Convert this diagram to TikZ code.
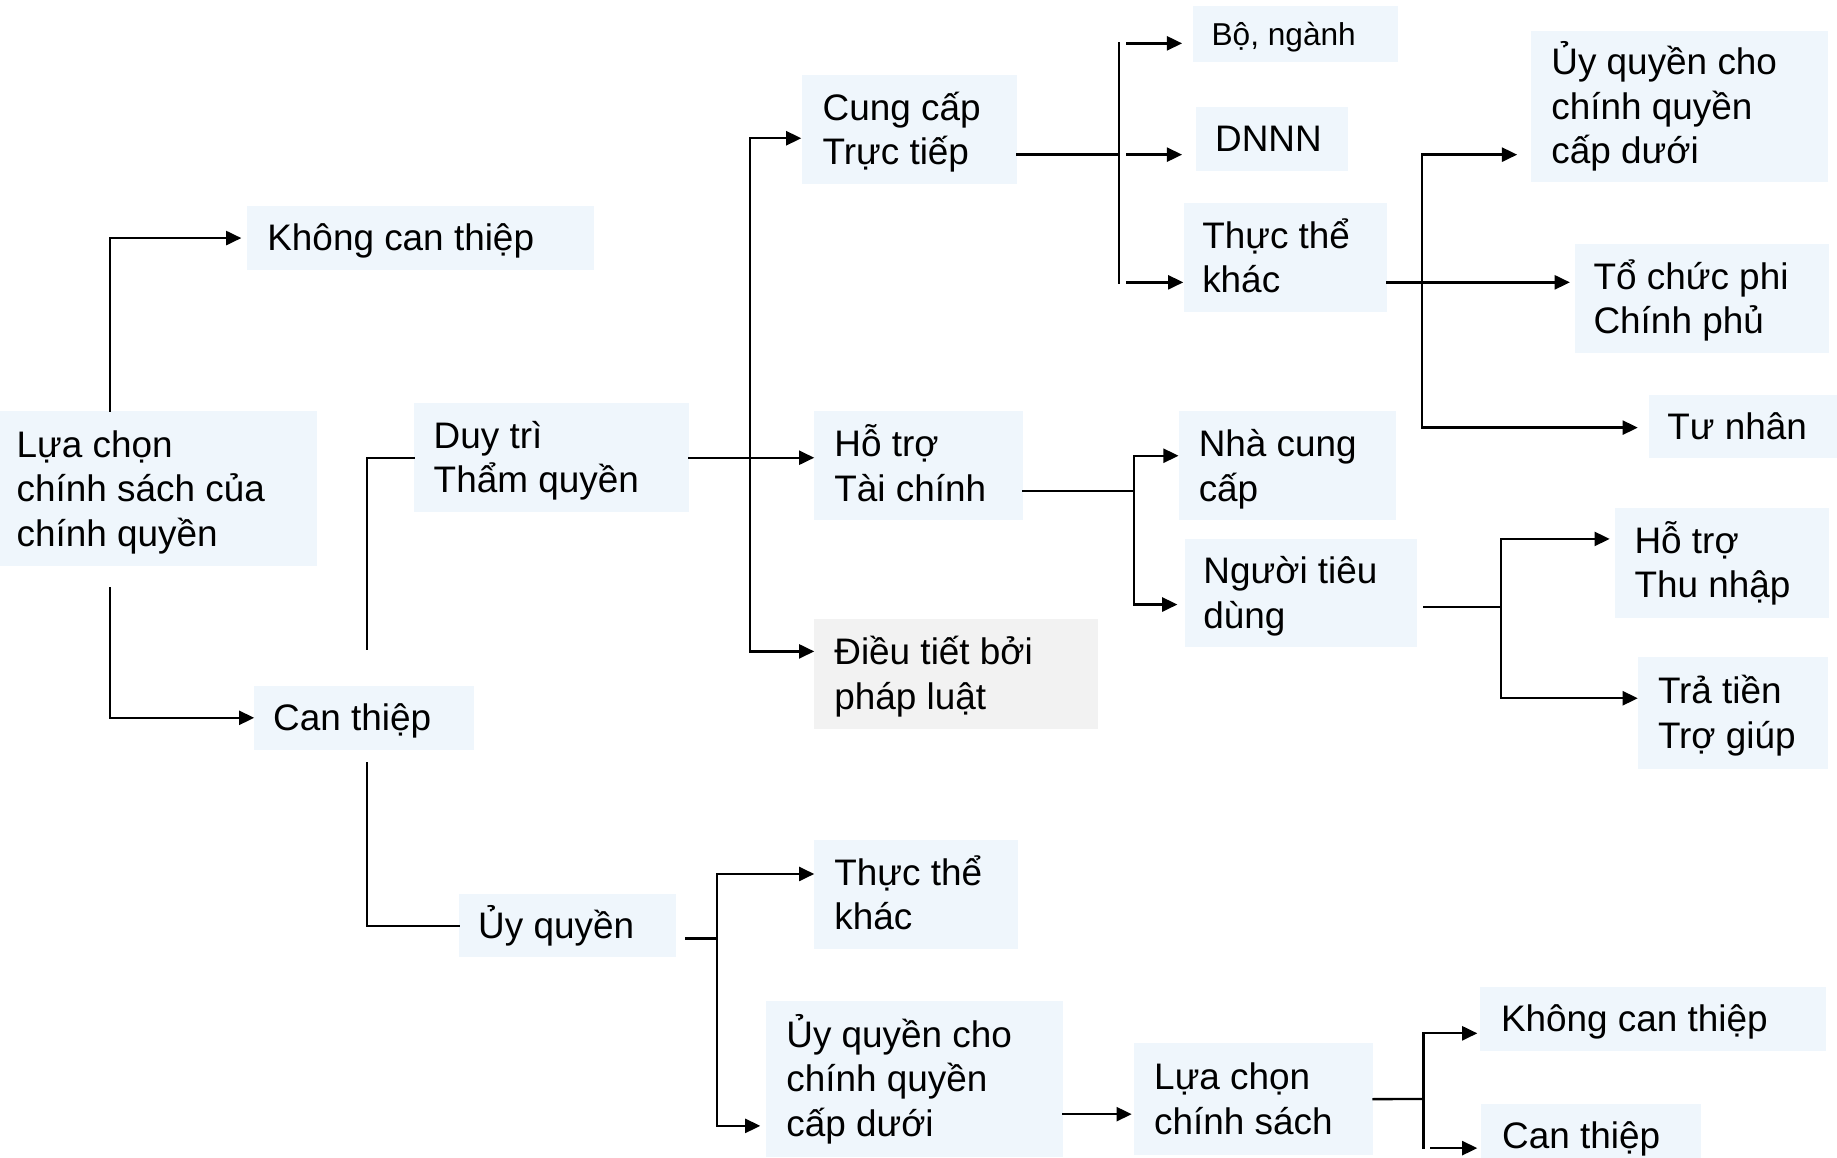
\documentclass[tikz,border=0pt]{standalone}
\usepackage{fontspec}
\setmainfont{Liberation Sans}
\usetikzlibrary{arrows.meta,calc}
\definecolor{boxblue}{RGB}{239,246,252}
\definecolor{boxgrey}{RGB}{242,242,242}
\tikzset{
  bx/.style={fill=boxblue, draw=none, inner sep=0pt, anchor=north west},
  gbx/.style={bx, fill=boxgrey},
  sz/.style 2 args={minimum width=#1pt, minimum height=#2pt},
  txt/.style={inner sep=0pt, align=left, anchor=base west, font=\fontsize{31.5}{38}\selectfont},
  smalltxt/.style={txt, font=\fontsize{27}{32}\selectfont},
  ln/.style={line width=2pt, line cap=rect, black},
  arr/.style={ln, -{Triangle[length=13pt,width=12pt]}},
}
\begin{document}
\begin{tikzpicture}[x=1pt,y=-1pt]
\useasboundingbox (0,0) rectangle (1568,988);

% boxes
\node[bx,sz={270}{132}] (root) at (0,351) {};
\node[bx,sz={296}{54}] (kct1) at (211,176) {};
\node[bx,sz={187}{55}] (ct1) at (217,585) {};
\node[bx,sz={235}{93}] (duytri) at (353,344) {};
\node[bx,sz={185}{54}] (uyq) at (392,763) {};
\node[bx,sz={184}{93}] (cungcap) at (684,64) {};
\node[bx,sz={178}{93}] (hotro) at (695,351) {};
\node[gbx,sz={242}{94}] (dieutiet) at (695,528) {};
\node[bx,sz={174}{93}] (tt2) at (695,717) {};
\node[bx,sz={253}{133}] (uq2) at (654,854) {};
\node[bx,sz={204}{96}] (lc2) at (968,890) {};
\node[bx,sz={295}{55}] (kct2) at (1263,842) {};
\node[bx,sz={188}{55}] (ct2) at (1264,942) {};
\node[bx,sz={175}{48}] (bonganh) at (1018,5) {};
\node[bx,sz={129}{55}] (dnnn) at (1021,91) {};
\node[bx,sz={174}{93}] (tt1) at (1010,173) {};
\node[bx,sz={253}{129}] (uq1) at (1307,26) {};
\node[bx,sz={217}{93}] (tcpcp) at (1344,208) {};
\node[bx,sz={175}{54}] (tunhan) at (1407,337) {};
\node[bx,sz={185}{93}] (ncc) at (1006,351) {};
\node[bx,sz={198}{92}] (ntd) at (1011,460) {};
\node[bx,sz={183}{94}] (htn) at (1378,433) {};
\node[bx,sz={162}{95}] (tratien) at (1398,561) {};

% texts (anchor = baseline of last line)
\node[txt] (roott) at ($(root.west)+(14,49)$) {Lựa chọn\\chính sách của\\chính quyền};
\node[txt] (kct1t) at ($(kct1.west)+(17,11)$) {Không can thiệp};
\node[txt] (ct1t) at ($(ct1.west)+(16,11)$) {Can thiệp};
\node[txt] (duytrit) at ($(duytri.west)+(17,30)$) {Duy trì\\Thẩm quyền};
\node[txt] (uyqt) at ($(uyq.west)+(16,11)$) {Ủy quyền};
\node[txt] (cungcapt) at ($(cungcap.west)+(18,30)$) {Cung cấp\\Trực tiếp};
\node[txt] (hotrot) at ($(hotro.west)+(17,30)$) {Hỗ trợ\\Tài chính};
\node[txt] (dieutiett) at ($(dieutiet.west)+(17,30)$) {Điều tiết bởi\\pháp luật};
\node[txt] (tt2t) at ($(tt2.west)+(17,30)$) {Thực thể\\khác};
\node[txt] (uq2t) at ($(uq2.west)+(17,49)$) {Ủy quyền cho\\chính quyền\\cấp dưới};
\node[txt] (lc2t) at ($(lc2.west)+(17,30)$) {Lựa chọn\\chính sách};
\node[txt] (kct2t) at ($(kct2.west)+(18,11)$) {Không can thiệp};
\node[txt] (ct2t) at ($(ct2.west)+(18,11)$) {Can thiệp};
\node[smalltxt] (bonganht) at ($(bonganh.west)+(16,9.5)$) {Bộ, ngành};
\node[txt] (dnnnt) at ($(dnnn.west)+(16,11)$) {DNNN};
\node[txt] (tt1t) at ($(tt1.west)+(16,30)$) {Thực thể\\khác};
\node[txt] (uq1t) at ($(uq1.west)+(17,49)$) {Ủy quyền cho\\chính quyền\\cấp dưới};
\node[txt] (tcpcpt) at ($(tcpcp.west)+(16,30)$) {Tổ chức phi\\Chính phủ};
\node[txt] (tunhant) at ($(tunhan.west)+(16,11)$) {Tư nhân};
\node[txt] (ncct) at ($(ncc.west)+(17,30)$) {Nhà cung\\cấp};
\node[txt] (ntdt) at ($(ntd.west)+(16,30)$) {Người tiêu\\dùng};
\node[txt] (htnt) at ($(htn.west)+(17,30)$) {Hỗ trợ\\Thu nhập};
\node[txt] (tratient) at ($(tratien.west)+(17,30)$) {Trả tiền\\Trợ giúp};

% connectors: root
\coordinate (a0) at (94,0);
\draw[arr, shorten >=5pt] (root.north -| a0) |- (kct1.west);
\coordinate (a1) at (94,502);
\draw[arr] (a1) |- (ct1.west);
% can thiep
\coordinate (b1) at (313,554);
\draw[ln] (b1) |- (duytri.west);
\coordinate (b2) at (313,651);
\draw[ln] (b2) |- (uyq.west);
% duy tri
\draw[arr] (duytri.east) -- (duytri.east -| hotro.west);
\coordinate (c1) at (640,118);
\coordinate (c2) at (640,556);
\draw[ln] (c1) -- (c2);
\draw[arr] (c1) -- (c1 -| cungcap.west);
\draw[arr] (c2) -- (c2 -| dieutiet.west);
% cung cap
\coordinate (d0) at (955,132);
\draw[ln] (d0 -| cungcap.east) -- (d0);
\coordinate (d1) at (955,37);
\coordinate (d3) at (955,241);
\draw[ln] (d1) -- (d3);
\coordinate (e1) at (962,37);
\coordinate (e2) at (962,132);
\coordinate (e3) at (962,241);
\draw[arr, shorten >=9pt] (e1) -- (e1 -| bonganh.west);
\draw[arr, shorten >=12pt] (e2) -- (e2 -| dnnn.west);
\draw[arr] (e3) -- (e3 -| tt1.west);
% thuc the khac (top)
\coordinate (f0) at (1187,241);
\draw[arr, shorten >=4pt] (f0 -| tt1.east) -- (f0 -| tcpcp.west);
\coordinate (f1) at (1214,132);
\coordinate (f2) at (1214,365);
\draw[ln] (f1) -- (f2);
\draw[arr, shorten >=12pt] (f1) -- (f1 -| uq1.west);
\draw[arr, shorten >=9pt] (f2) -- (f2 -| tunhan.west);
% ho tro tai chinh
\coordinate (g0) at (968,419);
\draw[ln] (g0 -| hotro.east) -- (g0);
\coordinate (g1) at (968,389);
\coordinate (g2) at (968,516);
\draw[ln] (g1) -- (g2);
\draw[arr] (g1) -- (g1 -| ncc.west);
\draw[arr, shorten >=6pt] (g2) -- (g2 -| ntd.west);
% nguoi tieu dung
\coordinate (h00) at (1216,518);
\coordinate (h0) at (1281,518);
\draw[ln] (h00) -- (h0);
\coordinate (h1) at (1281,460);
\coordinate (h2) at (1281,596);
\draw[ln] (h1) -- (h2);
\draw[arr, shorten >=4pt] (h1) -- (h1 -| htn.west);
\draw[arr] (h2) -- (h2 -| tratien.west);
% uy quyen
\coordinate (i00) at (586,801);
\coordinate (i0) at (612,801);
\draw[ln] (i00) -- (i0);
\coordinate (i1) at (612,746);
\coordinate (i2) at (612,961);
\draw[ln] (i1) -- (i2);
\draw[arr] (i1) -- (i1 -| tt2.west);
\draw[arr, shorten >=5pt] (i2) -- (i2 -| uq2.west);
% uy quyen cho (bottom) -> lua chon
\coordinate (j0) at (0,951);
\draw[arr, shorten >=2pt] (uq2.east |- j0) -- (lc2.west |- j0);
% lua chon chinh sach
\coordinate (k0) at (1214,938);
\draw[ln] (lc2.east) -- (k0);
\coordinate (k1) at (1215,882);
\coordinate (k2) at (1215,980);
\draw[ln] (k1) -- (k2);
\draw[arr, shorten >=2pt] (k1) -- (k1 -| kct2.west);
\coordinate (k3) at (1222,980);
\draw[arr, shorten >=3pt] (k3) -- (k3 -| ct2.west);
\end{tikzpicture}
\end{document}
